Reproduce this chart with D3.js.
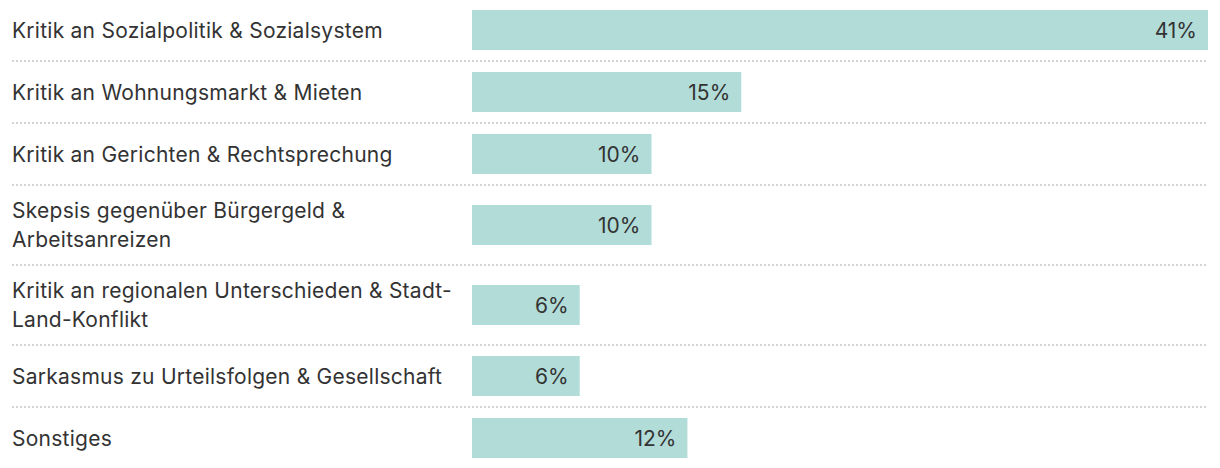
<!DOCTYPE html>
<html>
<head>
<meta charset="utf-8">
<script src="https://cdn.jsdelivr.net/npm/d3@7"></script>
<style>
  html, body { margin: 0; padding: 0; background: #fff; }
  svg { display: block; }
  text { font-family: Inter, "Noto Sans", sans-serif; }
</style>
</head>
<body>
<svg id="chart" width="1220" height="468"></svg>
<script>
const categories = [
  "Kritik an Sozialpolitik & Sozialsystem",
  "Kritik an Wohnungsmarkt & Mieten",
  "Kritik an Gerichten & Rechtsprechung",
  "Skepsis gegenüber Bürgergeld & Arbeitsanreizen",
  "Kritik an regionalen Unterschieden & Stadt-Land-Konflikt",
  "Sarkasmus zu Urteilsfolgen & Gesellschaft",
  "Sonstiges"
];
const values = [41, 15, 10, 10, 6, 6, 12];
const valueLabels = ["41%", "15%", "10%", "10%", "6%", "6%", "12%"];

const W = 1220;
const labelX = 12, barX0 = 472, barX1 = 1208;
const labelMaxW = 460;
const lineH = 29, barH = 40, pad = 10, border = 2;
const fontSize = 21;
const spacing = 0.25;

const svg = d3.select("#chart");

const x = d3.scaleLinear().domain([0, d3.max(values)]).range([barX0, barX1]);

const measure = svg.append("text").attr("font-size", fontSize)
  .attr("letter-spacing", spacing).attr("visibility", "hidden");
function textW(s) { measure.text(s); return measure.node().getComputedTextLength(); }

function wrap(label) {
  const tokens = label.match(/[^\s-]+-?|\s+/g);
  const lines = [];
  let cur = "";
  tokens.forEach(t => {
    if (/^\s+$/.test(t)) { cur += " "; return; }
    const trial = cur + t;
    if (cur.trim() !== "" && textW(trial.trim()) > labelMaxW) {
      lines.push(cur.trim());
      cur = t;
    } else {
      cur = trial;
    }
  });
  if (cur.trim() !== "") lines.push(cur.trim());
  return lines;
}

const rows = categories.map((c, i) => ({ label: c, lines: wrap(c), value: values[i], vlabel: valueLabels[i] }));
measure.remove();

let y = 0;
rows.forEach((r, i) => {
  const contentH = Math.max(barH, r.lines.length * lineH);
  r.top = y;
  r.h = contentH + 2 * pad;
  r.center = y + pad + contentH / 2;
  y += r.h;
  if (i < rows.length - 1) { r.borderY = y + border / 2; y += border; }
});

const g = svg.append("g");

g.selectAll("line.div").data(rows.filter(r => r.borderY !== undefined)).join("line")
  .attr("class", "div")
  .attr("x1", labelX).attr("x2", barX1)
  .attr("y1", d => d.borderY).attr("y2", d => d.borderY)
  .attr("stroke", "#d4d4d4").attr("stroke-width", border)
  .attr("stroke-dasharray", "2,2");

g.selectAll("rect.bar").data(rows).join("rect")
  .attr("class", "bar")
  .attr("x", x(0))
  .attr("y", d => d.center - barH / 2)
  .attr("width", d => x(d.value) - x(0))
  .attr("height", barH)
  .attr("fill", "#b2dcd8");

const lab = g.selectAll("text.lab").data(rows).join("text")
  .attr("class", "lab")
  .attr("x", labelX)
  .attr("font-size", fontSize)
  .attr("letter-spacing", spacing)
  .attr("fill", "#333");
lab.each(function(d) {
  const n = d.lines.length;
  d3.select(this).selectAll("tspan").data(d.lines).join("tspan")
    .attr("x", labelX)
    .attr("y", (l, j) => d.center + (j - (n - 1) / 2) * lineH + 7.6)
    .text(l => l);
});

g.selectAll("text.val").data(rows).join("text")
  .attr("class", "val")
  .attr("x", d => x(d.value) - 11)
  .attr("y", d => d.center + 7.6)
  .attr("text-anchor", "end")
  .attr("font-size", fontSize)
  .attr("fill", "#333")
  .text(d => d.vlabel);
</script>
</body>
</html>
